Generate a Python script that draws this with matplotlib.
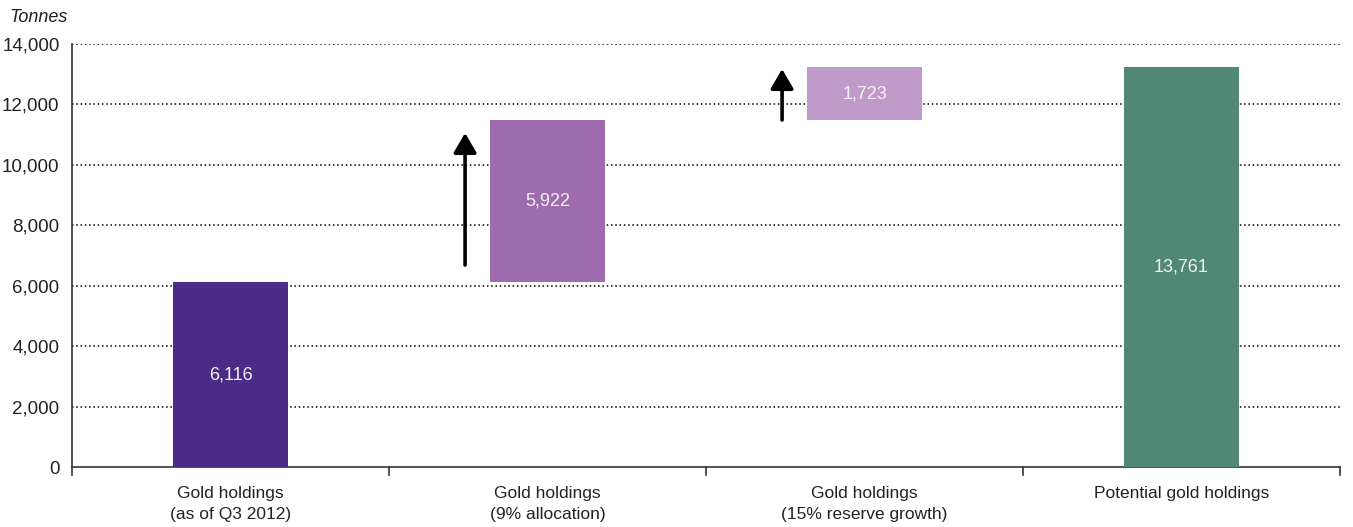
import matplotlib
matplotlib.use("Agg")
import matplotlib.pyplot as plt
from matplotlib.ticker import FuncFormatter

plt.rcParams['font.family'] = ['Liberation Sans', 'DejaVu Sans']

categories = ["Gold holdings\n(as of Q3 2012)", "Gold holdings\n(9% allocation)",
              "Gold holdings\n(15% reserve growth)", "Potential gold holdings"]
# drawn bar extents (bottom, height)
bar_bottoms = [0, 6116, 11485, 0]
bar_heights = [6116, 5369, 1750, 13236]
value_labels = ["6,116", "5,922", "1,723", "13,761"]
bar_colors = ["#4A2C87", "#9E6CAE", "#C09BC9", "#508775"]
yticks = [0, 2000, 4000, 6000, 8000, 10000, 12000, 14000]

fig = plt.figure(figsize=(13.53, 5.27), dpi=100)
ax = fig.add_axes([72/1353, 1-467/527, (1340-72)/1353, (467-44)/527])

x = list(range(len(categories)))
ax.set_xlim(-0.5, len(categories) - 0.5)
ax.set_ylim(0, 14000)

for yv in yticks[1:]:
    ax.axhline(yv, color="black", lw=1.1, ls=(0, (1, 1.8)), zorder=1)

bars = ax.bar(x, bar_heights, bottom=bar_bottoms, width=0.36, color=bar_colors, zorder=3)
for xi, b, h, lab in zip(x, bar_bottoms, bar_heights, value_labels):
    ax.text(xi, b + h/2, lab, ha="center", va="center", color="#f2f2f2",
            fontsize=13, zorder=4)

# arrows for the increments
arrow_specs = [(1, 570, -430), (2, 0, -63)]
for idx, off_start, off_end in arrow_specs:
    b = bar_bottoms[idx]
    t = bar_bottoms[idx] + bar_heights[idx]
    ax.annotate("", xy=(idx - 0.26, t + off_end), xytext=(idx - 0.26, b + off_start),
                arrowprops=dict(arrowstyle="-|>,head_length=1.2,head_width=0.7",
                                color="black", lw=2.6, shrinkA=0, shrinkB=0),
                zorder=5)

ax.set_yticks(yticks)
ax.yaxis.set_major_formatter(FuncFormatter(lambda v, p: f"{int(v):,}"))
ax.tick_params(axis="y", length=0, pad=9, labelsize=13.5, colors="#222222")

ax.set_xticks(x)
ax.set_xticklabels(categories, fontsize=12.5, color="#222222", linespacing=1.5)
ax.tick_params(axis="x", length=0, pad=14)
for bnd in [i + 0.5 for i in x]:
    ax.plot([bnd, bnd], [0, -0.018], transform=ax.get_xaxis_transform(),
            color="#333333", lw=1.2, clip_on=False)
ax.plot([-0.5, -0.5], [0, -0.018], transform=ax.get_xaxis_transform(),
        color="#333333", lw=1.2, clip_on=False)

for s in ["top", "right"]:
    ax.spines[s].set_visible(False)
for s in ["left", "bottom"]:
    ax.spines[s].set_color("#333333")
    ax.spines[s].set_linewidth(1.2)

fig.text(9/1353, 1-18/527, "Tonnes", fontsize=13, style="italic", color="#222222",
         va="center", ha="left")

fig.savefig("out.png", dpi=100)
